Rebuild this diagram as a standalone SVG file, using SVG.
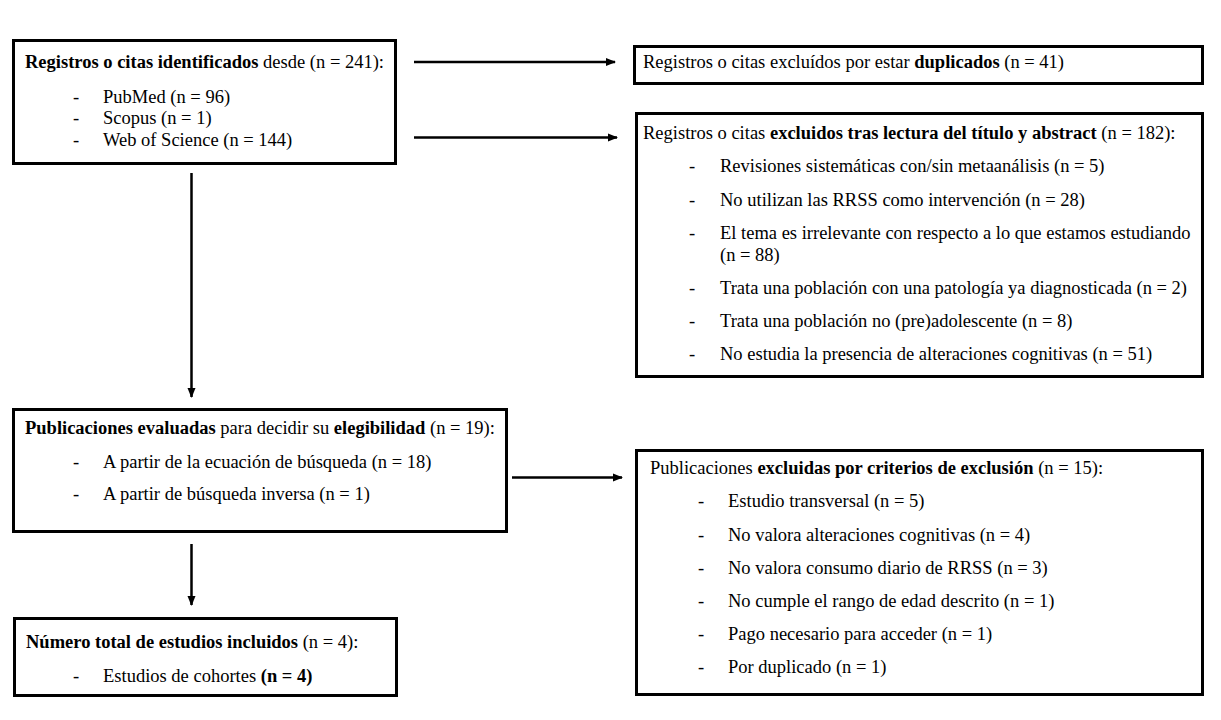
<svg xmlns="http://www.w3.org/2000/svg" width="1221" height="720" viewBox="0 0 1221 720">
<defs>
<marker id="ah" viewBox="0 0 10 10" refX="9" refY="5" markerWidth="4" markerHeight="4" orient="auto" markerUnits="strokeWidth">
<path d="M0,1 L10,5 L0,9 z" fill="#000"/>
</marker>
</defs>
<rect width="1221" height="720" fill="#fff"/>
<g id="connectors" stroke="#000" stroke-width="2.5" fill="none">
<line x1="414" y1="62" x2="615" y2="62" marker-end="url(#ah)"/>
<line x1="414" y1="137.5" x2="617" y2="137.5" marker-end="url(#ah)"/>
<line x1="191.5" y1="173" x2="191.5" y2="397" marker-end="url(#ah)"/>
<line x1="191.5" y1="544" x2="191.5" y2="605" marker-end="url(#ah)"/>
<line x1="512" y1="477.5" x2="622" y2="477.5" marker-end="url(#ah)"/>
</g>
<g id="identificados">
<rect x="13.5" y="40.5" width="382" height="123" fill="#fff" stroke="#000" stroke-width="3"/>
<text x="25" y="68" font-family="Liberation Serif" font-size="18.5"><tspan font-weight="bold">Registros o citas identificados</tspan> desde (n = 241):</text>
<text x="73" y="103" font-family="Liberation Serif" font-size="18.5">-</text><text x="103" y="103" font-family="Liberation Serif" font-size="18.5">PubMed (n = 96)</text>
<text x="73" y="124" font-family="Liberation Serif" font-size="18.5">-</text><text x="103" y="124" font-family="Liberation Serif" font-size="18.5">Scopus (n = 1)</text>
<text x="73" y="146" font-family="Liberation Serif" font-size="18.5">-</text><text x="103" y="146" font-family="Liberation Serif" font-size="18.5">Web of Science (n = 144)</text>
</g>
<g id="duplicados">
<rect x="634.5" y="46.5" width="568" height="37" fill="#fff" stroke="#000" stroke-width="3"/>
<text x="643" y="68" font-family="Liberation Serif" font-size="18.5">Registros o citas excluídos por estar <tspan font-weight="bold">duplicados</tspan> (n = 41)</text>
</g>
<g id="excluidos-titulo">
<rect x="636.5" y="113.5" width="566" height="263" fill="#fff" stroke="#000" stroke-width="3"/>
<text x="643" y="139" font-family="Liberation Serif" font-size="18.5">Registros o citas <tspan font-weight="bold">excluidos tras lectura del título y abstract</tspan> (n = 182):</text>
<text x="689" y="172" font-family="Liberation Serif" font-size="18.5">-</text><text x="720" y="172" font-family="Liberation Serif" font-size="18.5">Revisiones sistemáticas con/sin metaanálisis (n = 5)</text>
<text x="689" y="206" font-family="Liberation Serif" font-size="18.5">-</text><text x="720" y="206" font-family="Liberation Serif" font-size="18.5">No utilizan las RRSS como intervención (n = 28)</text>
<text x="689" y="239" font-family="Liberation Serif" font-size="18.5">-</text><text x="720" y="239" font-family="Liberation Serif" font-size="18.5">El tema es irrelevante con respecto a lo que estamos estudiando</text>
<text x="720" y="261" font-family="Liberation Serif" font-size="18.5">(n = 88)</text>
<text x="689" y="294" font-family="Liberation Serif" font-size="18.5">-</text><text x="720" y="294" font-family="Liberation Serif" font-size="18.5">Trata una población con una patología ya diagnosticada (n = 2)</text>
<text x="689" y="327" font-family="Liberation Serif" font-size="18.5">-</text><text x="720" y="327" font-family="Liberation Serif" font-size="18.5">Trata una población no (pre)adolescente (n = 8)</text>
<text x="689" y="360" font-family="Liberation Serif" font-size="18.5">-</text><text x="720" y="360" font-family="Liberation Serif" font-size="18.5">No estudia la presencia de alteraciones cognitivas (n = 51)</text>
</g>
<g id="evaluadas">
<rect x="13.5" y="409.5" width="493" height="122" fill="#fff" stroke="#000" stroke-width="3"/>
<text x="25" y="434" font-family="Liberation Serif" font-size="18.5"><tspan font-weight="bold">Publicaciones evaluadas</tspan> para decidir su <tspan font-weight="bold">elegibilidad</tspan> (n = 19):</text>
<text x="73" y="468" font-family="Liberation Serif" font-size="18.5">-</text><text x="103" y="468" font-family="Liberation Serif" font-size="18.5">A partir de la ecuación de búsqueda (n = 18)</text>
<text x="73" y="500" font-family="Liberation Serif" font-size="18.5">-</text><text x="103" y="500" font-family="Liberation Serif" font-size="18.5">A partir de búsqueda inversa (n = 1)</text>
</g>
<g id="excluidas-criterios">
<rect x="636.5" y="450.5" width="566" height="244" fill="#fff" stroke="#000" stroke-width="3"/>
<text x="650" y="474" font-family="Liberation Serif" font-size="18.5">Publicaciones <tspan font-weight="bold">excluidas por criterios de exclusión</tspan> (n = 15):</text>
<text x="698" y="507" font-family="Liberation Serif" font-size="18.5">-</text><text x="728" y="507" font-family="Liberation Serif" font-size="18.5">Estudio transversal (n = 5)</text>
<text x="698" y="541" font-family="Liberation Serif" font-size="18.5">-</text><text x="728" y="541" font-family="Liberation Serif" font-size="18.5">No valora alteraciones cognitivas (n = 4)</text>
<text x="698" y="574" font-family="Liberation Serif" font-size="18.5">-</text><text x="728" y="574" font-family="Liberation Serif" font-size="18.5">No valora consumo diario de RRSS (n = 3)</text>
<text x="698" y="607" font-family="Liberation Serif" font-size="18.5">-</text><text x="728" y="607" font-family="Liberation Serif" font-size="18.5">No cumple el rango de edad descrito (n = 1)</text>
<text x="698" y="640" font-family="Liberation Serif" font-size="18.5">-</text><text x="728" y="640" font-family="Liberation Serif" font-size="18.5">Pago necesario para acceder (n = 1)</text>
<text x="698" y="673" font-family="Liberation Serif" font-size="18.5">-</text><text x="728" y="673" font-family="Liberation Serif" font-size="18.5">Por duplicado (n = 1)</text>
</g>
<g id="incluidos">
<rect x="14.5" y="618.5" width="382" height="77" fill="#fff" stroke="#000" stroke-width="3"/>
<text x="26" y="648" font-family="Liberation Serif" font-size="18.5"><tspan font-weight="bold">Número total de estudios incluidos</tspan> (n = 4):</text>
<text x="73" y="682" font-family="Liberation Serif" font-size="18.5">-</text><text x="103" y="682" font-family="Liberation Serif" font-size="18.5">Estudios de cohortes <tspan font-weight="bold">(n = 4)</tspan></text>
</g>
</svg>
